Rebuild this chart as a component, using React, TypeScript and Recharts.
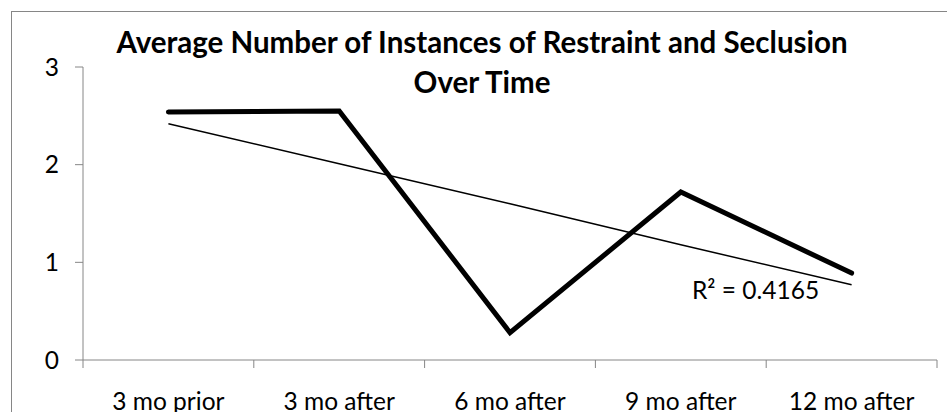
import { LineChart, Line, XAxis, YAxis } from "recharts";

const periods = ["3 mo prior", "3 mo after", "6 mo after", "9 mo after", "12 mo after"];
const avgInstances = [2.54, 2.55, 0.28, 1.72, 0.89];
// linear trendline as Excel drew it
const trendValues = [2.42, 2.01, 1.6, 1.18, 0.77];
const yTicks = [0, 1, 2, 3];
const bandEdges = [0, 1, 2, 3, 4, 5];
const bandCenters = [0.5, 1.5, 2.5, 3.5, 4.5];
const rSquared = "R² = 0.4165";

const rows = periods.map((period, i) => ({
  pos: bandCenters[i],
  period,
  avg: avgInstances[i],
  trend: trendValues[i],
}));

const FONT = "Lato, 'Open Sans', sans-serif";
const AXIS = "#868686";
const TICK_SIZE = 24.5;

export default function App() {
  return (
    <div
      style={{
        position: "absolute",
        left: 0,
        top: 0,
        width: 947,
        height: 412,
        overflow: "hidden",
        background: "#fff",
        fontFamily: FONT,
      }}
    >
      <div
        style={{
          position: "absolute",
          left: 11,
          top: 11,
          width: 960,
          height: 440,
          border: `1px solid ${AXIS}`,
        }}
      />
      <div
        style={{
          position: "absolute",
          left: 0,
          width: 964,
          top: 22,
          textAlign: "center",
          fontWeight: 700,
          fontSize: 29.5,
          lineHeight: "40px",
          color: "#000",
          whiteSpace: "nowrap",
        }}
      >
        Average Number of Instances of Restraint and Seclusion
        <br />
        Over Time
      </div>
      <LineChart
        width={947}
        height={412}
        data={rows}
        margin={{ top: 67, right: 10, bottom: 0, left: 23 }}
        style={{ position: "absolute", left: 0, top: 0 }}
      >
        <XAxis
          xAxisId="grid"
          dataKey="pos"
          type="number"
          domain={[0, 5]}
          ticks={bandEdges}
          tickFormatter={() => ""}
          tickSize={8}
          height={8}
          stroke={AXIS}
          allowDataOverflow
        />
        <XAxis
          xAxisId="labels"
          dataKey="pos"
          type="number"
          domain={[0, 5]}
          ticks={bandCenters}
          tickFormatter={(v: number) => periods[Math.floor(v)]}
          axisLine={false}
          tickLine={false}
          tickSize={0}
          tickMargin={25}
          height={44}
          interval={0}
          tick={{ fontSize: TICK_SIZE, fill: "#000", fontFamily: FONT }}
        />
        <YAxis
          domain={[0, 3]}
          ticks={yTicks}
          width={60}
          tickSize={8}
          tickMargin={16}
          stroke={AXIS}
          tick={{ fontSize: TICK_SIZE, fill: "#000", fontFamily: FONT }}
        />
        <Line
          xAxisId="grid"
          dataKey="avg"
          type="linear"
          stroke="#000"
          strokeWidth={5}
          strokeLinecap="round"
          strokeLinejoin="miter"
          dot={false}
          activeDot={false}
          isAnimationActive={false}
        />
        <Line
          xAxisId="grid"
          dataKey="trend"
          type="linear"
          stroke="#000"
          strokeWidth={1.5}
          dot={false}
          activeDot={false}
          isAnimationActive={false}
        />
      </LineChart>
      <div
        style={{
          position: "absolute",
          left: 692,
          top: 275,
          fontSize: TICK_SIZE,
          lineHeight: "30px",
          color: "#000",
          whiteSpace: "nowrap",
        }}
      >
        {rSquared}
      </div>
    </div>
  );
}
